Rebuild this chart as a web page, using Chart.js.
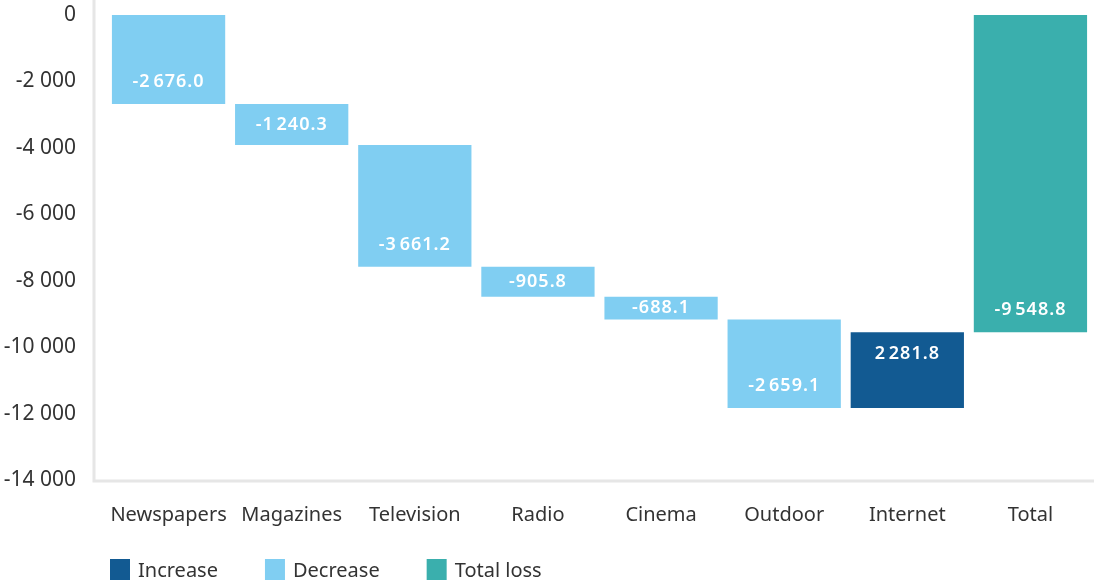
<!DOCTYPE html>
<html>
<head>
<meta charset="utf-8">
<script src="https://cdn.jsdelivr.net/npm/chart.js@4/dist/chart.umd.min.js"></script>
<style>
  html, body { margin: 0; padding: 0; background: #fff; }
  #wrap { width: 1094px; height: 584px; }
</style>
</head>
<body>
<div id="wrap"><canvas id="waterfall-chart"></canvas></div>
<script>
const categories = ["Newspapers", "Magazines", "Television", "Radio", "Cinema", "Outdoor", "Internet", "Total"];
const changes = [-2676.0, -1240.3, -3661.2, -905.8, -688.1, -2659.1, 2281.8, -9548.8];
const kinds = ["decrease", "decrease", "decrease", "decrease", "decrease", "decrease", "increase", "total"];
const yTicks = [0, -2000, -4000, -6000, -8000, -10000, -12000, -14000];
const legendNames = ["Increase", "Decrease", "Total loss"];
const legendKinds = ["increase", "decrease", "total"];

const colors = { increase: "#125a92", decrease: "#80cef2", total: "#3aafad" };
const FONT = "'Noto Sans', 'Open Sans', sans-serif";

// floating bars: running total for steps, 0..value for the total
let running = 0;
const ranges = changes.map((v, i) => {
  if (kinds[i] === "total") return [0, v];
  const start = running;
  running += v;
  return [start, running];
});

function groupThousands(n, sep) {
  const neg = n < 0;
  const parts = Math.abs(n).toFixed(1).split(".");
  const whole = parts[0].replace(/\B(?=(\d{3})+(?!\d))/g, sep);
  return (neg ? "-" : "") + whole + "." + parts[1];
}

const axisLines = {
  id: "axisLines",
  beforeDatasetsDraw(chart) {
    const { ctx, chartArea } = chart;
    ctx.save();
    ctx.strokeStyle = "#e6e6e6";
    ctx.lineWidth = 3;
    ctx.beginPath();
    ctx.moveTo(chartArea.left - 13, 0);
    ctx.lineTo(chartArea.left - 13, chartArea.bottom + 1);
    ctx.lineTo(chart.width, chartArea.bottom + 1);
    ctx.stroke();
    ctx.restore();
  }
};

// value label sits just inside the end of each step (or centred on short bars)
const barLabels = {
  id: "barLabels",
  afterDatasetsDraw(chart) {
    const { ctx } = chart;
    const yScale = chart.scales.y;
    const meta = chart.getDatasetMeta(0);
    ctx.save();
    ctx.fillStyle = "#ffffff";
    ctx.font = "600 18px " + FONT;
    if ("letterSpacing" in ctx) ctx.letterSpacing = "1px";
    ctx.textAlign = "center";
    ctx.textBaseline = "middle";
    meta.data.forEach((bar, i) => {
      const startPx = yScale.getPixelForValue(ranges[i][0]);
      const endPx = yScale.getPixelForValue(ranges[i][1]);
      const h = Math.abs(startPx - endPx);
      const dir = startPx > endPx ? 1 : -1;
      let y = (startPx + endPx) / 2;
      if (h > 60) y = endPx + dir * 22;
      ctx.fillText(groupThousands(changes[i], "\u200A"), bar.x, y);
    });
    ctx.restore();
  }
};

const bottomLegend = {
  id: "bottomLegend",
  afterDraw(chart) {
    const { ctx, chartArea } = chart;
    ctx.save();
    ctx.font = "20px " + FONT;
    ctx.textBaseline = "middle";
    let x = chartArea.left + 3;
    const y = 570;
    legendNames.forEach((name, i) => {
      ctx.fillStyle = colors[legendKinds[i]];
      ctx.fillRect(x, y - 11, 20, 21);
      ctx.fillStyle = "#333333";
      ctx.fillText(name, x + 28, y + 1);
      x += 28 + ctx.measureText(name).width + 47;
    });
    ctx.restore();
  }
};

const data = {
  labels: categories,
  datasets: [
    {
      label: "Change",
      data: ranges,
      backgroundColor: kinds.map((k) => colors[k]),
      borderWidth: 0,
      categoryPercentage: 0.92,
      barPercentage: 1.0,
    },
  ],
};

const config = {
  type: "bar",
  data: data,
  options: {
    responsive: false,
    animation: false,
    layout: { padding: { top: 15, right: 2, bottom: 0, left: 0 } },
    plugins: {
      legend: { display: false },
      tooltip: { enabled: false },
    },
    scales: {
      x: {
        grid: { display: false },
        border: { display: false },
        ticks: {
          color: "#333333",
          font: { family: FONT, size: 20 },
          padding: 15,
          maxRotation: 0,
        },
        afterFit(scale) { scale.height = 104; },
      },
      y: {
        min: -14000,
        max: 0,
        grid: { display: false, tickLength: 29 },
        border: { display: false },
        afterBuildTicks(scale) {
          scale.ticks = yTicks.map((v) => ({ value: v }));
        },
        afterFit(scale) { scale.width = 107; },
        ticks: {
          color: "#333333",
          font: { family: FONT, size: 21 },
          padding: 2,
          callback: (v) => (v === 0 ? "0" : "-" + String(Math.abs(v)).replace(/\B(?=(\d{3})+(?!\d))/g, " ")),
        },
      },
    },
  },
  plugins: [axisLines, barLabels, bottomLegend],
};

const canvas = document.getElementById("waterfall-chart");
canvas.width = 1094;
canvas.height = 584;
const ctx_wf = canvas.getContext("2d");
const waterfallChart = new Chart(ctx_wf, config);
</script>
</body>
</html>
